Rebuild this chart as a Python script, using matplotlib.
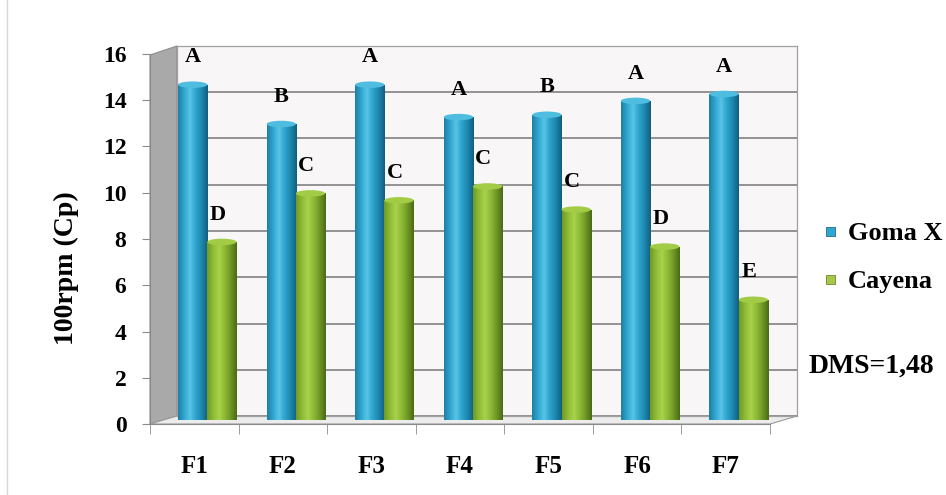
import matplotlib.pyplot as plt
import numpy as np
from matplotlib.patches import Polygon, Rectangle, Ellipse
from matplotlib.colors import LinearSegmentedColormap

plt.rcParams['font.family'] = ['Liberation Serif', 'DejaVu Serif']
plt.rcParams['font.weight'] = 'bold'

# data
categories = ["F1", "F2", "F3", "F4", "F5", "F6", "F7"]
goma = [14.5, 12.8, 14.5, 13.1, 13.2, 13.8, 14.1]
cayena = [7.7, 9.8, 9.5, 10.1, 9.1, 7.5, 5.2]
goma_letters = ["A", "B", "A", "A", "B", "A", "A"]
cayena_letters = ["D", "C", "C", "C", "C", "D", "E"]
series_names = ["Goma X", "Cayena"]
dms_text = "DMS=1,48"

W, H = 946, 495
fig = plt.figure(figsize=(W / 100, H / 100), dpi=100)
fig.patch.set_facecolor('white')


def box(x0, y0, x1, y1):
    # pixel box (top-left origin) -> figure fraction rect
    return [x0 / W, 1 - y1 / H, (x1 - x0) / W, (y1 - y0) / H]


def fpt(x, y):
    return (x / W, 1 - y / H)


# thin frame line at the left of the picture
fig.add_artist(plt.Line2D([7 / W, 7 / W], [0, 1], color='#d8d8d8', lw=1))

# left side wall and floor (3D look)
fig.add_artist(Polygon([fpt(150, 424), fpt(177, 416), fpt(177, 46), fpt(150, 55)],
                       closed=True, facecolor='#a9a9a9', edgecolor='#8c8c8c', lw=0.8,
                       transform=fig.transFigure, zorder=0))
fig.add_artist(Polygon([fpt(150, 424), fpt(770, 424), fpt(797, 416), fpt(177, 416)],
                       closed=True, facecolor='#ececec', edgecolor='#9a9a9a', lw=0.8,
                       transform=fig.transFigure, zorder=0))

# back wall with gridlines
ax_wall = fig.add_axes(box(177, 46, 797, 416), zorder=0)
ax_wall.set_ylim(0, 16)
ax_wall.set_xlim(0, 1)
ax_wall.set_facecolor('#f8f6f6')
ax_wall.set_yticks(np.arange(0, 17, 2))
ax_wall.grid(axis='y', color='#8a8a8a', lw=1.3)
ax_wall.tick_params(left=False, bottom=False, labelleft=False, labelbottom=False)
for s in ax_wall.spines.values():
    s.set_color('#a0a0a0')
    s.set_linewidth(0.9)

# front axes: ticks and labels
ax = fig.add_axes(box(150, 54, 770, 424), zorder=1)
ax.patch.set_alpha(0)
ax.set_xlim(-0.5, len(categories) - 0.5)
ax.set_ylim(0, 16)
ax.set_yticks(np.arange(0, 17, 2))
ax.set_xticks(np.arange(len(categories)))
ax.set_xticklabels(categories)
ax.set_xticks(np.arange(len(categories) + 1) - 0.5, minor=True)
ax.tick_params(axis='x', which='major', length=0, pad=22, labelsize=18)
ax.tick_params(axis='x', which='minor', length=7, color='#8a8a8a', direction='out')
ax.tick_params(axis='y', length=6, color='#8a8a8a', direction='out', labelsize=17, pad=11)
for k in ['top', 'right']:
    ax.spines[k].set_visible(False)
ax.spines['left'].set_color('#8a8a8a')
ax.spines['bottom'].set_color('#8a8a8a')
ax.set_ylabel("100rpm (Cp)", fontsize=20, fontweight='bold')
ax.yaxis.set_label_coords(-0.115, 0.42)

# bars at mid depth
axb = fig.add_axes(box(163, 50, 783, 420), zorder=2)
axb.patch.set_alpha(0)
axb.axis('off')
axb.set_xlim(-0.5, len(categories) - 0.5)
axb.set_ylim(0, 16)

cmap_blue = LinearSegmentedColormap.from_list(
    'b', ['#1f7fa3', '#2fa6cf', '#56c4e6', '#2ea3cc', '#1c86ad', '#125f7d'])
cmap_green = LinearSegmentedColormap.from_list(
    'g', ['#6f9a25', '#8fbc36', '#a9d14c', '#8cb934', '#6e9626', '#4b6a15'])
grad = np.linspace(0, 1, 64).reshape(1, -1)

x = np.arange(len(categories))
bw = 0.33


def draw_bars(xs, vals, cmap, top_col):
    bars = axb.bar(xs, vals, width=bw, color='none', edgecolor='none')
    for b, v in zip(bars, vals):
        x0 = b.get_x()
        im = axb.imshow(grad, cmap=cmap, aspect='auto',
                        extent=[x0, x0 + bw, 0, v], zorder=2)
        im.set_clip_path(b)
        axb.add_patch(Ellipse((x0 + bw / 2, v), bw, 0.28, facecolor=top_col,
                              edgecolor='none', zorder=3))
    return bars


draw_bars(x - bw / 2, goma, cmap_blue, '#4fbde0')
draw_bars(x + bw / 2, cayena, cmap_green, '#a2cc46')
axb.set_xlim(-0.5, len(categories) - 0.5)
axb.set_ylim(0, 16)

for i in range(len(categories)):
    axb.text(x[i] - bw / 2, goma[i] + 0.75, goma_letters[i], ha='center', va='bottom',
             fontsize=16, fontweight='bold')
    axb.text(x[i] + bw / 2 - 0.05, cayena[i] + 0.75, cayena_letters[i], ha='center',
             va='bottom', fontsize=16, fontweight='bold')

# legend
fig.add_artist(Rectangle(fpt(826, 236), 9 / W, 9 / H, facecolor='#2fa6cf',
                         edgecolor='#1c7090', lw=0.6, transform=fig.transFigure))
fig.add_artist(Rectangle(fpt(826, 284), 9 / W, 9 / H, facecolor='#a5c84a',
                         edgecolor='#6e8a25', lw=0.6, transform=fig.transFigure))
fig.text(848 / W, 1 - 240 / H, series_names[0], fontsize=19, fontweight='bold',
         va='baseline', ha='left')
fig.text(848 / W, 1 - 288 / H, series_names[1], fontsize=19, fontweight='bold',
         va='baseline', ha='left')
fig.text(809 / W, 1 - 373 / H, dms_text, fontsize=20, fontweight='bold',
         va='baseline', ha='left')

fig.savefig("out.png", dpi=100)
